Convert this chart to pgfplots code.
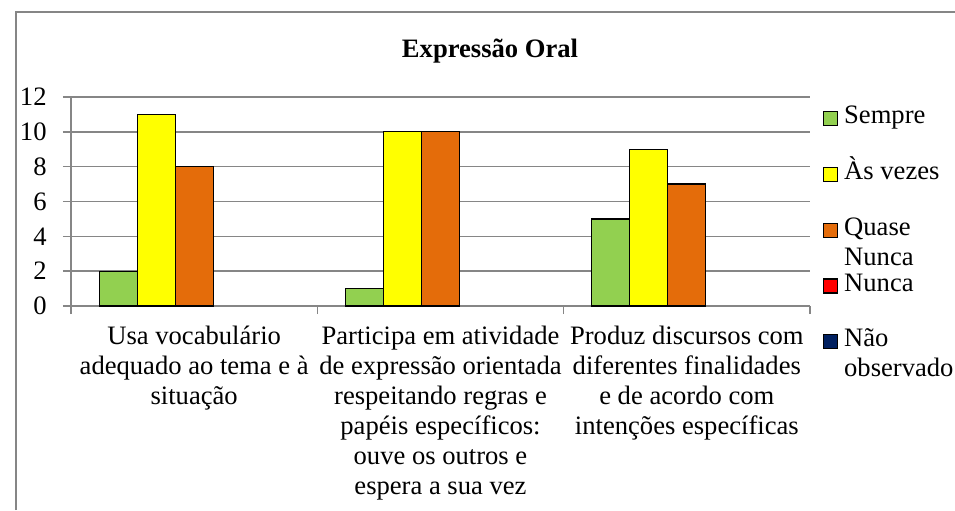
\documentclass[border=0pt]{standalone}
\usepackage{fontspec}
\setmainfont{Liberation Serif}
\usepackage{pgfplots}
\pgfplotsset{compat=1.18}
\definecolor{cSempre}{HTML}{92D050}
\definecolor{cVezes}{HTML}{FFFF00}
\definecolor{cQuase}{HTML}{E46C0A}
\definecolor{cNunca}{HTML}{FF0000}
\definecolor{cNao}{HTML}{002060}
\definecolor{gridgray}{HTML}{868686}
\newcommand{\chartfont}{\fontsize{13.3}{15}\selectfont}
\begin{document}
\chartfont
\begin{tikzpicture}[font=\chartfont]
\begin{axis}[
  at={(0pt,0pt)}, anchor=south west,
  scale only axis, width=369.5pt, height=104.5pt,
  xmin=-0.5, xmax=2.5, ymin=0, ymax=12,
  ytick={0,2,4,6,8,10,12},
  xtick={0,1,2},
  xticklabels={{Usa vocabulário\\adequado ao tema e à\\situação},
               {Participa em atividade\\de expressão orientada\\respeitando regras e\\papéis específicos:\\ouve os outros e\\espera a sua vez},
               {Produz discursos com\\diferentes finalidades\\e de acordo com\\intenções específicas}},
  minor xtick={-0.5,0.5,1.5,2.5},
  axis x line*=bottom, axis y line*=left,
  axis line style={draw=gridgray, line width=0.8pt},
  tick align=outside,
  major tick length=4pt, minor tick length=4pt,
  major x tick style={draw=none},
  minor x tick style={draw=gridgray, line width=0.8pt},
  y tick style={draw=gridgray, line width=0.8pt},
  ymajorgrids, grid style={draw=gridgray, line width=0.8pt},
  /pgf/number format/assume math mode=true,
  yticklabel style={inner sep=0pt, xshift=-8pt, font=\chartfont},
  xticklabel style={align=center, inner sep=0pt, yshift=-6pt, font=\chartfont},
  title={Expressão Oral},
  title style={at={(0.567,1.163)}, anchor=center, font=\chartfont\bfseries},
  ybar, bar width=19pt,
  legend style={at={(1,1)}, anchor=north west, xshift=6.5pt, yshift=-7pt,
    draw=none, fill=none, inner sep=0pt, outer sep=0pt,
    row sep=20.3pt, column sep=3pt,
    nodes={inner sep=0pt, text height=6pt, text depth=0pt},
    font=\chartfont},
  legend cell align=left,
  legend image code/.code={\draw[#1] (0pt,-4pt) rectangle (7pt,3pt);},
]
\addplot[fill=cSempre, draw=black, line width=0.6pt, bar shift=-38pt] coordinates {(0,2) (1,1) (2,5)};
\addlegendentry{Sempre}
\addplot[fill=cVezes, draw=black, line width=0.6pt, bar shift=-19pt] coordinates {(0,11) (1,10) (2,9)};
\addlegendentry{Às vezes}
\addplot[fill=cQuase, draw=black, line width=0.6pt, bar shift=0pt] coordinates {(0,8) (1,10) (2,7)};
\addlegendentry{\begin{tabular}[t]{@{}l@{}}Quase\\Nunca\end{tabular}}
\addplot[fill=none, draw=none, bar shift=19pt,
  legend image code/.code={\draw[fill=cNunca, draw=black, line width=0.6pt] (0pt,-4pt) rectangle (7pt,3pt);}] coordinates {(0,0) (1,0) (2,0)};
\addlegendentry{Nunca}
\addplot[fill=none, draw=none, bar shift=38pt,
  legend image code/.code={\draw[fill=cNao, draw=black, line width=0.6pt] (0pt,-4pt) rectangle (7pt,3pt);}] coordinates {(0,0) (1,0) (2,0)};
\addlegendentry{\begin{tabular}[t]{@{}l@{}}Não\\observado\end{tabular}}
\end{axis}
\draw[gridgray, line width=0.75pt] (-27.5pt,-102pt) -- (-27.5pt,147pt) -- (442pt,147pt);
\pgfresetboundingbox
\path[use as bounding box] (-35.5pt,-102pt) rectangle (442pt,153pt);
\end{tikzpicture}
\end{document}
